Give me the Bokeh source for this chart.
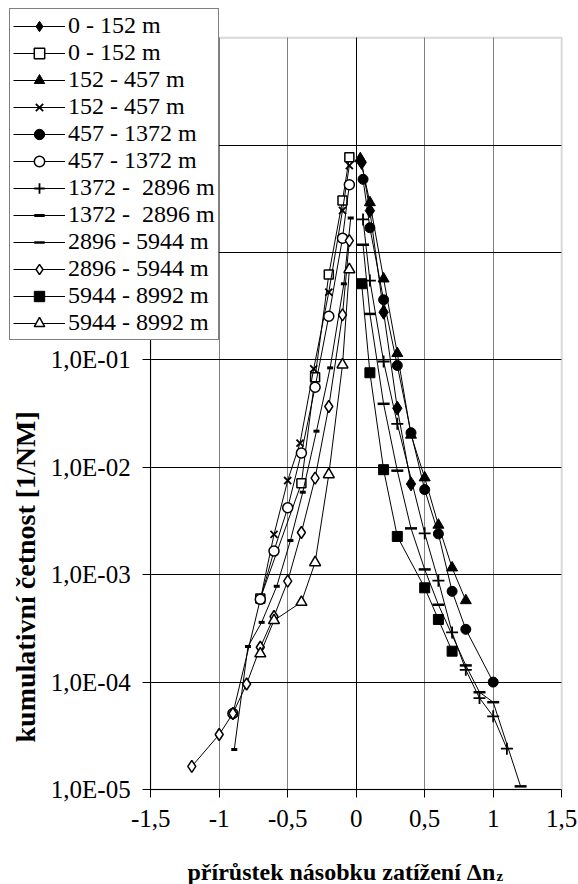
import math
from bokeh.plotting import figure
from bokeh.models import (FixedTicker, Legend, LegendItem, Label, BoxAnnotation,
                          Grid)
from bokeh.embed import file_html
from bokeh.resources import INLINE

FONT = "Liberation Serif"

# ---- data ----
labels = ["0 - 152 m", "0 - 152 m", "152 - 457 m", "152 - 457 m",
          "457 - 1372 m", "457 - 1372 m", "1372 -  2896 m", "1372 -  2896 m",
          "2896 - 5944 m", "2896 - 5944 m", "5944 - 8992 m", "5944 - 8992 m"]

x1 = [0.04, 0.1, 0.2, 0.3, 0.4]
y1 = [6.9, 2.45, 0.278, 0.0355, 0.0070]

x2 = [-0.05, -0.1, -0.2, -0.3, -0.4, -0.7]
y2 = [7.7, 3.05, 0.624, 0.069, 0.0071, 6.0e-4]

x3 = [0.03, 0.1, 0.2, 0.3, 0.4, 0.5, 0.6, 0.7, 0.8]
y3 = [7.5, 2.92, 0.569, 0.115, 0.020, 0.0080, 0.0029, 0.00116, 5.75e-4]

x4 = [-0.05, -0.1, -0.2, -0.31, -0.41, -0.5, -0.6, -0.7]
y4 = [6.46, 2.46, 0.427, 0.0826, 0.0168, 0.00753, 0.00237, 5.8e-4]

x5 = [0.05, 0.1, 0.2, 0.3, 0.4, 0.5, 0.6, 0.7, 0.8, 1.0]
y5 = [4.8, 1.70, 0.363, 0.0887, 0.021, 0.0062, 0.0024, 7.0e-4, 3.1e-4, 1.0e-4]

x6 = [-0.05, -0.1, -0.2, -0.3, -0.4, -0.5, -0.6, -0.7, -0.9]
y6 = [4.27, 1.36, 0.255, 0.0557, 0.0136, 0.0042, 0.00166, 5.9e-4, 5.1e-5]

x7 = [0.05, 0.1, 0.2, 0.3, 0.5, 0.6, 0.7, 0.8, 0.9, 1.0, 1.1]
y7 = [2.03, 0.548, 0.0966, 0.0254, 0.00243, 8.8e-4, 2.9e-4, 1.3e-4, 7.1e-5, 4.8e-5, 2.4e-5]

x8 = [-0.04, -0.09, -0.19, -0.29, -0.39, -0.48, -0.58, -0.69, -0.79, -0.89]
y8 = [2.09, 0.511, 0.0843, 0.0217, 0.00586, 0.00208, 7.8e-4, 3.6e-4, 2.15e-4, 2.36e-5]

x9 = [0.05, 0.1, 0.2, 0.3, 0.4, 0.5, 0.6, 0.8, 0.9, 1.0, 1.2]
y9 = [1.18, 0.268, 0.039, 0.0093, 0.0027, 0.00112, 5.25e-4, 1.43e-4, 8.05e-5, 6.5e-5, 1.07e-5]

x10 = [-0.05, -0.1, -0.2, -0.3, -0.4, -0.5, -0.6, -0.7, -0.8, -0.9, -1.0, -1.2]
y10 = [1.29, 0.263, 0.0368, 0.00794, 0.00247, 8.7e-4, 4.08e-4, 2.11e-4, 9.6e-5, 5.1e-5, 3.25e-5, 1.64e-5]

x11 = [0.04, 0.1, 0.2, 0.3, 0.5, 0.6, 0.7]
y11 = [0.512, 0.0759, 0.0095, 0.00227, 7.55e-4, 3.83e-4, 1.94e-4]

x12 = [-0.05, -0.1, -0.2, -0.3, -0.4, -0.6, -0.7]
y12 = [0.695, 0.09, 0.00857, 0.0013, 5.55e-4, 3.75e-4, 1.84e-4]

x_ticks = [-1.5, -1.0, -0.5, 0.0, 0.5, 1.0, 1.5]
x_tick_labels = ["-1,5", "-1", "-0,5", "0", "0,5", "1", "1,5"]
y_ticks = [1e-5, 1e-4, 1e-3, 1e-2, 1e-1, 1e0, 1e1, 1e2]
y_tick_labels = ["1,0E-05", "1,0E-04", "1,0E-03", "1,0E-02", "1,0E-01",
                 "1,0E+00", "1,0E+01", "1,0E+02"]
x_lo, x_hi = -1.5, 1.5
y_lo, y_hi = 1e-5, 1e2

xs = [x1, x2, x3, x4, x5, x6, x7, x8, x9, x10, x11, x12]
ys = [y1, y2, y3, y4, y5, y6, y7, y8, y9, y10, y11, y12]

# marker styles: (marker, size, fill, line_width)
styles = [
    ("diamond", 14, "black", 1),
    ("square", 9, "white", 1.5),
    ("triangle", 11, "black", 1),
    ("x", 10, None, 1.8),
    ("circle", 10, "black", 1),
    ("circle", 10, "white", 1.5),
    ("cross", 12, None, 1.8),
    ("dash", 6, None, 3),
    ("dash", 12, None, 2.5),
    ("diamond", 12, "white", 1.5),
    ("square", 10, "black", 1),
    ("triangle", 11, "white", 1.5),
]

# Frame covers the whole canvas; the plot area (-1.5..1.5, 1e-5..1e2)
# sits at pixels x 150..561, y 37..789 through these ranges.
W, H = 578, 884
px0, ppu = 355.7, 137.0            # pixel of x=0, pixels per unit
py_lo, ppd = 789.0, 107.4          # pixel of y=1e-5, pixels per decade
xr = (-px0 / ppu, (W - px0) / ppu)
yr = (10 ** (-5 + (py_lo - H) / ppd), 10 ** (-5 + py_lo / ppd))

p = figure(width=W, height=H, x_range=xr, y_range=yr, title=None,
           y_axis_type="log", output_backend="svg", toolbar_location=None,
           min_border_left=0, min_border_right=0, min_border_top=0,
           min_border_bottom=0)
p.background_fill_color = "white"
p.border_fill_color = "white"
p.outline_line_color = None

xa = p.xaxis[0]
ya = p.yaxis[0]
xa.fixed_location = y_lo
ya.fixed_location = x_lo
xa.bounds = (x_lo, x_hi)
ya.bounds = (y_lo, y_hi)
xa.ticker = FixedTicker(ticks=x_ticks)
xa.major_label_overrides = dict(zip(x_ticks, x_tick_labels))
ya.ticker = FixedTicker(ticks=y_ticks)
ya.major_label_overrides = dict(zip(y_ticks, y_tick_labels))

for ax in (xa, ya):
    ax.axis_line_color = "black"
    ax.axis_line_width = 1
    ax.major_tick_line_color = "black"
    ax.major_tick_in = 0
    ax.major_tick_out = 8
    ax.minor_tick_line_color = None
    ax.major_label_text_font = FONT
    ax.major_label_text_font_size = "25px"
    ax.major_label_text_color = "black"
xa.major_label_standoff = 12
ya.major_label_standoff = 12

box = BoxAnnotation(left=x_lo, right=x_hi, bottom=y_lo, top=y_hi,
                    fill_alpha=0, line_color="#808080", line_width=2,
                    level="underlay")
p.add_layout(box)

p.xgrid.ticker = FixedTicker(ticks=[-1.0, -0.5, 0.5, 1.0])
p.xgrid.cross_bounds = (y_lo, y_hi)
p.xgrid.grid_line_color = "#808080"
p.xgrid.grid_line_width = 1
zero_grid = Grid(dimension=0, ticker=FixedTicker(ticks=[0.0]),
                 cross_bounds=(y_lo, y_hi), grid_line_color="black",
                 grid_line_width=1)
p.add_layout(zero_grid)
p.ygrid.ticker = FixedTicker(ticks=[1e-4, 1e-3, 1e-2, 1e-1, 1e0, 1e1])
p.ygrid.cross_bounds = (x_lo, x_hi)
p.ygrid.grid_line_color = "black"
p.ygrid.grid_line_width = 1

items = []
for lab, xv, yv, (mk, sz, fill, lw) in zip(labels, xs, ys, styles):
    ln = p.line(xv, yv, line_color="black", line_width=1)
    sc = p.scatter(xv, yv, marker=mk, size=sz, line_color="black",
                   line_width=lw, fill_color=fill)
    items.append(LegendItem(label=lab, renderers=[ln, sc]))

legend = Legend(items=items, location=(9, H - 340))
legend.label_text_font = FONT
legend.label_text_font_size = "24px"
legend.label_text_line_height = 1.0
legend.label_text_color = "black"
legend.label_height = 26
legend.glyph_height = 26
legend.glyph_width = 52
legend.label_standoff = 3
legend.spacing = 0
legend.padding = 3
legend.margin = 0
legend.border_line_color = "black"
legend.border_line_width = 1
legend.background_fill_color = "white"
legend.background_fill_alpha = 1.0
p.add_layout(legend)

ylab = Label(x=25, y=H - 742, x_units="screen", y_units="screen",
             text="kumulativní četnost [1/NM]", angle=math.pi / 2,
             text_align="left", text_baseline="middle",
             text_font=FONT, text_font_style="bold", text_font_size="28px",
             text_color="black")
p.add_layout(ylab)

xlab = Label(x=187, y=H - 871, x_units="screen", y_units="screen",
             text="přírůstek násobku zatížení Δn",
             text_align="left", text_baseline="alphabetic",
             text_font=FONT, text_font_style="bold", text_font_size="24px",
             text_color="black")
p.add_layout(xlab)
zlab = Label(x=496, y=H - 875, x_units="screen", y_units="screen",
             text="z", text_align="left", text_baseline="alphabetic",
             text_font=FONT, text_font_style="bold", text_font_size="15px",
             text_color="black")
p.add_layout(zlab)

open("out.html", "w").write(file_html(p, INLINE))
